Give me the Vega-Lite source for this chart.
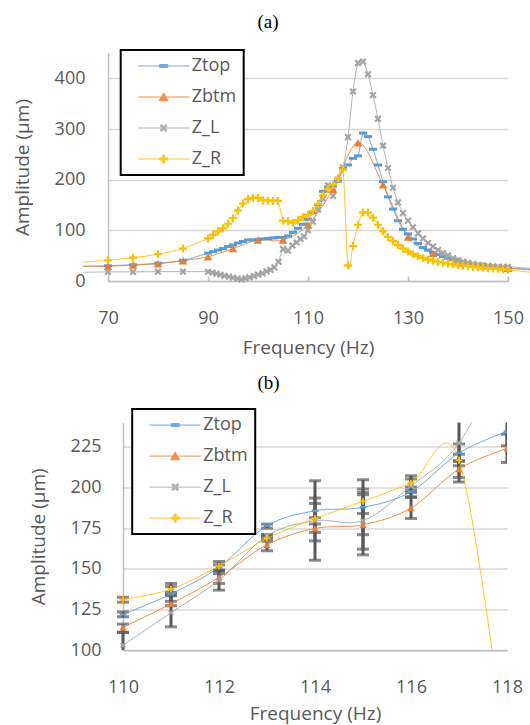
{
  "$schema": "https://vega.github.io/schema/vega-lite/v6.json",
  "background": "white",
  "padding": {"left": 12, "top": 13, "right": 0, "bottom": 8},
  "spacing": 16.5,
  "config": {
    "view": {"stroke": null},
    "font": "Open Sans",
    "axis": {
      "labelFont": "Open Sans", "labelFontSize": 18, "labelColor": "#595959",
      "titleFont": "Open Sans", "titleFontSize": 19, "titleColor": "#595959", "titleFontWeight": "normal",
      "domainColor": "#BFBFBF", "domainWidth": 1.5,
      "gridColor": "#D9D9D9", "gridWidth": 1.5,
      "tickColor": "#BFBFBF", "tickWidth": 1.5,
      "labelOverlap": false, "labelFlush": false
    },
    "legend": {
      "labelFont": "Open Sans", "labelFontSize": 18, "labelColor": "#595959",
      "strokeColor": "black", "strokeWidth": 2, "fillColor": "white", "padding": 7, "rowPadding": 13,
      "symbolSize": 100, "symbolOffset": 27, "labelOffset": 19, "symbolStrokeWidth": 1,
      "labelExpr": "datum.label + '    '"
    },
    "title": {"font": "Liberation Serif", "fontSize": 19, "fontWeight": "normal", "color": "black", "anchor": "middle", "frame": "group"}
  },
  "resolve": {"scale": {"color": "independent", "shape": "independent", "x": "independent", "y": "independent"}, "legend": {"color": "independent", "shape": "independent"}},
  "datasets": {
    "a": [
      {"f":65,"s":"Ztop","v":29},{"f":70,"s":"Ztop","v":30},{"f":75,"s":"Ztop","v":32},{"f":80,"s":"Ztop","v":35},{"f":85,"s":"Ztop","v":41},
      {"f":90,"s":"Ztop","v":55},{"f":91,"s":"Ztop","v":58},{"f":92,"s":"Ztop","v":61},{"f":93,"s":"Ztop","v":64},{"f":94,"s":"Ztop","v":68},
      {"f":95,"s":"Ztop","v":71},{"f":96,"s":"Ztop","v":75},{"f":97,"s":"Ztop","v":78},{"f":98,"s":"Ztop","v":81},{"f":99,"s":"Ztop","v":81},
      {"f":100,"s":"Ztop","v":82},{"f":101,"s":"Ztop","v":83},{"f":102,"s":"Ztop","v":84},{"f":103,"s":"Ztop","v":85},{"f":104,"s":"Ztop","v":86},
      {"f":105,"s":"Ztop","v":86},{"f":106,"s":"Ztop","v":89},{"f":107,"s":"Ztop","v":96},{"f":108,"s":"Ztop","v":104},{"f":109,"s":"Ztop","v":112},
      {"f":110,"s":"Ztop","v":122},{"f":111,"s":"Ztop","v":135},{"f":112,"s":"Ztop","v":151},{"f":113,"s":"Ztop","v":177},{"f":114,"s":"Ztop","v":186},
      {"f":115,"s":"Ztop","v":188},{"f":116,"s":"Ztop","v":197},{"f":117,"s":"Ztop","v":222},{"f":118,"s":"Ztop","v":229},{"f":119,"s":"Ztop","v":242},
      {"f":120,"s":"Ztop","v":247},{"f":121,"s":"Ztop","v":292},{"f":122,"s":"Ztop","v":285},{"f":123,"s":"Ztop","v":260},{"f":124,"s":"Ztop","v":229},
      {"f":125,"s":"Ztop","v":196},{"f":126,"s":"Ztop","v":166},{"f":127,"s":"Ztop","v":142},{"f":128,"s":"Ztop","v":119},{"f":129,"s":"Ztop","v":102},
      {"f":130,"s":"Ztop","v":93},{"f":131,"s":"Ztop","v":83},{"f":132,"s":"Ztop","v":74},{"f":133,"s":"Ztop","v":66},{"f":134,"s":"Ztop","v":61},
      {"f":135,"s":"Ztop","v":56},{"f":136,"s":"Ztop","v":52},{"f":137,"s":"Ztop","v":48},{"f":138,"s":"Ztop","v":45},{"f":139,"s":"Ztop","v":42},
      {"f":140,"s":"Ztop","v":40},{"f":141,"s":"Ztop","v":38},{"f":142,"s":"Ztop","v":36},{"f":143,"s":"Ztop","v":34},{"f":144,"s":"Ztop","v":33},
      {"f":145,"s":"Ztop","v":31},{"f":146,"s":"Ztop","v":30},{"f":147,"s":"Ztop","v":29},{"f":148,"s":"Ztop","v":28},{"f":149,"s":"Ztop","v":27},
      {"f":150,"s":"Ztop","v":26},{"f":156,"s":"Ztop","v":22},

      {"f":65,"s":"Zbtm","v":29},{"f":70,"s":"Zbtm","v":29},{"f":75,"s":"Zbtm","v":31.5},{"f":80,"s":"Zbtm","v":34},{"f":85,"s":"Zbtm","v":40},
      {"f":90,"s":"Zbtm","v":48},{"f":95,"s":"Zbtm","v":64},{"f":100,"s":"Zbtm","v":81},{"f":105,"s":"Zbtm","v":81},{"f":110,"s":"Zbtm","v":111},
      {"f":115,"s":"Zbtm","v":181},{"f":120,"s":"Zbtm","v":273},{"f":125,"s":"Zbtm","v":190},{"f":130,"s":"Zbtm","v":87},{"f":135,"s":"Zbtm","v":55},
      {"f":140,"s":"Zbtm","v":40},{"f":145,"s":"Zbtm","v":30},{"f":150,"s":"Zbtm","v":25},{"f":156,"s":"Zbtm","v":21},

      {"f":65,"s":"Z_L","v":17},{"f":70,"s":"Z_L","v":18},{"f":75,"s":"Z_L","v":18},{"f":80,"s":"Z_L","v":18.5},{"f":85,"s":"Z_L","v":18.5},
      {"f":90,"s":"Z_L","v":18.3},{"f":90.9,"s":"Z_L","v":16.4},{"f":91.7,"s":"Z_L","v":14.4},{"f":92.5,"s":"Z_L","v":12.4},{"f":93.3,"s":"Z_L","v":10.4},
      {"f":94.2,"s":"Z_L","v":8.5},{"f":95,"s":"Z_L","v":6.5},{"f":95.9,"s":"Z_L","v":4.5},{"f":96.7,"s":"Z_L","v":3.2},{"f":97.5,"s":"Z_L","v":5.1},
      {"f":98.3,"s":"Z_L","v":7.1},{"f":99.2,"s":"Z_L","v":9.8},{"f":100,"s":"Z_L","v":12.4},{"f":100.9,"s":"Z_L","v":15},{"f":101.7,"s":"Z_L","v":19},
      {"f":102.5,"s":"Z_L","v":22},{"f":103.3,"s":"Z_L","v":27},{"f":104.1,"s":"Z_L","v":38},{"f":105,"s":"Z_L","v":63},{"f":106,"s":"Z_L","v":60},
      {"f":106.9,"s":"Z_L","v":70},{"f":107.7,"s":"Z_L","v":76},{"f":108.5,"s":"Z_L","v":83},{"f":109.2,"s":"Z_L","v":88},{"f":110,"s":"Z_L","v":100},
      {"f":111,"s":"Z_L","v":117},{"f":112,"s":"Z_L","v":141},{"f":113,"s":"Z_L","v":162},{"f":114,"s":"Z_L","v":189},{"f":115,"s":"Z_L","v":168},
      {"f":116,"s":"Z_L","v":200},{"f":117,"s":"Z_L","v":224},{"f":118,"s":"Z_L","v":284},{"f":119,"s":"Z_L","v":374},{"f":120,"s":"Z_L","v":430},
      {"f":121,"s":"Z_L","v":433},{"f":122,"s":"Z_L","v":408},{"f":123,"s":"Z_L","v":367},{"f":124,"s":"Z_L","v":320},{"f":125,"s":"Z_L","v":267},
      {"f":126,"s":"Z_L","v":223},{"f":127,"s":"Z_L","v":184},{"f":128,"s":"Z_L","v":155},{"f":129,"s":"Z_L","v":134},{"f":130,"s":"Z_L","v":119},
      {"f":131,"s":"Z_L","v":106},{"f":132,"s":"Z_L","v":94},{"f":133,"s":"Z_L","v":84},{"f":134,"s":"Z_L","v":75},{"f":135,"s":"Z_L","v":68},
      {"f":136,"s":"Z_L","v":61},{"f":137,"s":"Z_L","v":55},{"f":138,"s":"Z_L","v":50},{"f":139,"s":"Z_L","v":45},{"f":140,"s":"Z_L","v":41},
      {"f":141,"s":"Z_L","v":38},{"f":142,"s":"Z_L","v":36},{"f":143,"s":"Z_L","v":34},{"f":144,"s":"Z_L","v":32},{"f":145,"s":"Z_L","v":31},
      {"f":146,"s":"Z_L","v":30},{"f":147,"s":"Z_L","v":29},{"f":148,"s":"Z_L","v":28},{"f":149,"s":"Z_L","v":28},{"f":150,"s":"Z_L","v":28},
      {"f":156,"s":"Z_L","v":24},

      {"f":65,"s":"Z_R","v":37},{"f":70,"s":"Z_R","v":41},{"f":75,"s":"Z_R","v":46},{"f":80,"s":"Z_R","v":53},{"f":85,"s":"Z_R","v":64},
      {"f":90,"s":"Z_R","v":84},{"f":91,"s":"Z_R","v":91},{"f":92,"s":"Z_R","v":98},{"f":93,"s":"Z_R","v":104},{"f":94,"s":"Z_R","v":113},
      {"f":95,"s":"Z_R","v":124},{"f":96,"s":"Z_R","v":139},{"f":97,"s":"Z_R","v":153},{"f":98,"s":"Z_R","v":162},{"f":99,"s":"Z_R","v":164},
      {"f":100,"s":"Z_R","v":164},{"f":101,"s":"Z_R","v":159},{"f":102,"s":"Z_R","v":159},{"f":103,"s":"Z_R","v":158},{"f":104,"s":"Z_R","v":158},
      {"f":105,"s":"Z_R","v":119},{"f":106,"s":"Z_R","v":118},{"f":107,"s":"Z_R","v":115},{"f":108,"s":"Z_R","v":120},{"f":109,"s":"Z_R","v":126},
      {"f":110,"s":"Z_R","v":131},{"f":111,"s":"Z_R","v":138},{"f":112,"s":"Z_R","v":152},{"f":113,"s":"Z_R","v":169},{"f":114,"s":"Z_R","v":181},
      {"f":115,"s":"Z_R","v":190},{"f":116,"s":"Z_R","v":203},{"f":117,"s":"Z_R","v":220},{"f":118,"s":"Z_R","v":31},{"f":119,"s":"Z_R","v":69},
      {"f":120,"s":"Z_R","v":111},{"f":121,"s":"Z_R","v":135},{"f":122,"s":"Z_R","v":135},{"f":123,"s":"Z_R","v":125},{"f":124,"s":"Z_R","v":111},
      {"f":125,"s":"Z_R","v":98},{"f":126,"s":"Z_R","v":87},{"f":127,"s":"Z_R","v":79},{"f":128,"s":"Z_R","v":71},{"f":129,"s":"Z_R","v":64},
      {"f":130,"s":"Z_R","v":58},{"f":131,"s":"Z_R","v":53},{"f":132,"s":"Z_R","v":49},{"f":133,"s":"Z_R","v":45},{"f":134,"s":"Z_R","v":42},
      {"f":135,"s":"Z_R","v":40},{"f":136,"s":"Z_R","v":38},{"f":137,"s":"Z_R","v":36},{"f":138,"s":"Z_R","v":34},{"f":139,"s":"Z_R","v":33},
      {"f":140,"s":"Z_R","v":31},{"f":141,"s":"Z_R","v":30},{"f":142,"s":"Z_R","v":29},{"f":143,"s":"Z_R","v":28},{"f":144,"s":"Z_R","v":27},
      {"f":145,"s":"Z_R","v":26},{"f":146,"s":"Z_R","v":25},{"f":147,"s":"Z_R","v":24.5},{"f":148,"s":"Z_R","v":24},{"f":149,"s":"Z_R","v":23},
      {"f":150,"s":"Z_R","v":22},{"f":156,"s":"Z_R","v":16}
    ],
    "b": [
      {"f":110,"s":"Ztop","v":122,"lo":120.5,"hi":123.5},{"f":111,"s":"Ztop","v":134.5,"lo":130,"hi":139},{"f":112,"s":"Ztop","v":151,"lo":148.8,"hi":152.5},
      {"f":113,"s":"Ztop","v":176.5,"lo":175,"hi":177.5},{"f":114,"s":"Ztop","v":185.7,"lo":167.2,"hi":204.2},{"f":115,"s":"Ztop","v":187.8,"lo":171,"hi":204.8},
      {"f":116,"s":"Ztop","v":197.4,"lo":194.4,"hi":200.4},{"f":117,"s":"Ztop","v":221.2,"lo":216.2,"hi":226.8},{"f":118,"s":"Ztop","v":234.5,"lo":225.7,"hi":244},
      {"f":110,"s":"Zbtm","v":114,"lo":110.8,"hi":116},{"f":111,"s":"Zbtm","v":128.5,"lo":127.3,"hi":133.4},{"f":112,"s":"Zbtm","v":144.7,"lo":141,"hi":147.1},
      {"f":113,"s":"Zbtm","v":164.8,"lo":161.1,"hi":168.5},{"f":114,"s":"Zbtm","v":174.8,"lo":155.3,"hi":193.5},{"f":115,"s":"Zbtm","v":177.1,"lo":158.6,"hi":195.6},
      {"f":116,"s":"Zbtm","v":187.4,"lo":181,"hi":193.8},{"f":117,"s":"Zbtm","v":211.4,"lo":206.2,"hi":216.4},{"f":118,"s":"Zbtm","v":224.1,"lo":215.4,"hi":232.8},
      {"f":110,"s":"Z_L","v":103,"lo":95,"hi":111},{"f":111,"s":"Z_L","v":123,"lo":114.3,"hi":135.5},{"f":112,"s":"Z_L","v":143,"lo":136.9,"hi":149},
      {"f":113,"s":"Z_L","v":170.3,"lo":169.7,"hi":171},{"f":114,"s":"Z_L","v":179.6,"lo":177.6,"hi":181.5},{"f":115,"s":"Z_L","v":179.6,"lo":162.1,"hi":197},
      {"f":116,"s":"Z_L","v":201,"lo":197,"hi":205.2},{"f":117,"s":"Z_L","v":227.4,"lo":203.4,"hi":251},{"f":118,"s":"Z_L","v":284,"lo":null,"hi":null},
      {"f":110,"s":"Z_R","v":131,"lo":129.5,"hi":132.5},{"f":111,"s":"Z_R","v":137.5,"lo":134,"hi":141},{"f":112,"s":"Z_R","v":151.7,"lo":149.2,"hi":154.5},
      {"f":113,"s":"Z_R","v":168.7,"lo":167,"hi":170.8},{"f":114,"s":"Z_R","v":181,"lo":172.4,"hi":190.2},{"f":115,"s":"Z_R","v":191.5,"lo":184,"hi":199.1},
      {"f":116,"s":"Z_R","v":202.8,"lo":198.3,"hi":207.3},{"f":117,"s":"Z_R","v":216.9,"lo":213.4,"hi":220.4},{"f":118,"s":"Z_R","v":31,"lo":null,"hi":null}
    ]
  },
  "vconcat": [
    {
      "width": 400,
      "height": 228,
      "title": {"text": "(a)", "dx": -40, "offset": 17},
      "data": {"name": "a"},
      "encoding": {
        "x": {"field": "f", "type": "quantitative",
          "scale": {"domain": [70, 150], "nice": false, "zero": false},
          "axis": {"values": [70, 90, 110, 130, 150], "grid": false, "ticks": true, "tickSize": -5, "labelPadding": 33, "title": "Frequency (Hz)", "titlePadding": 11}},
        "y": {"field": "v", "type": "quantitative",
          "scale": {"domain": [0, 450], "nice": false},
          "axis": {"values": [0, 100, 200, 300, 400], "grid": true, "ticks": false, "labelPadding": 23, "title": "Amplitude (µm)", "titleX": -86, "titleBaseline": "middle"}},
        "color": {"field": "s", "type": "nominal",
          "scale": {"domain": ["Ztop", "Zbtm", "Z_L", "Z_R"], "range": ["#5B9BD5", "#ED7D31", "#A5A5A5", "#FFC000"]},
          "legend": {"title": null, "orient": "none", "legendX": 12.7, "legendY": -3}}
      },
      "layer": [
        {"mark": {"type": "line", "interpolate": "cardinal", "strokeWidth": 1, "opacity": 0.85}},
        {"transform": [{"filter": "datum.s === 'Ztop' && datum.f >= 70 && datum.f <= 150"}],
         "mark": {"type": "point", "filled": true, "opacity": 1, "size": 100, "shape": "M-0.8,-0.3H0.8V0.3H-0.8Z"}},
        {"transform": [{"filter": "datum.s === 'Zbtm' && datum.f >= 70 && datum.f <= 150"}],
         "mark": {"type": "point", "filled": true, "opacity": 1, "size": 100, "shape": "M0,-0.75L0.85,0.75H-0.85Z"}},
        {"transform": [{"filter": "datum.s === 'Z_L' && datum.f >= 70 && datum.f <= 150"}],
         "mark": {"type": "point", "filled": true, "opacity": 1, "size": 100, "shape": "M0.41,-0.72L0.72,-0.41L0.31,0L0.72,0.41L0.41,0.72L0,0.31L-0.41,0.72L-0.72,0.41L-0.31,0L-0.72,-0.41L-0.41,-0.72L0,-0.31Z"}},
        {"transform": [{"filter": "datum.s === 'Z_R' && datum.f >= 70 && datum.f <= 150"}],
         "mark": {"type": "point", "filled": true, "opacity": 1, "size": 100, "shape": "M-0.22,-0.8H0.22V-0.22H0.8V0.22H0.22V0.8H-0.22V0.22H-0.8V-0.22H-0.22Z"}},
        {"transform": [{"filter": "false"}],
         "mark": {"type": "point", "filled": true, "opacity": 1},
         "encoding": {
           "shape": {"field": "s", "type": "nominal",
             "scale": {"domain": ["Ztop", "Zbtm", "Z_L", "Z_R"], "range": [
               "M-5.1,0H5.1M-0.8,-0.3H0.8V0.3H-0.8Z",
               "M-5.1,0H5.1M0,-0.8L0.9,0.75H-0.9Z",
               "M-5.1,0H5.1M0.41,-0.72L0.72,-0.41L0.31,0L0.72,0.41L0.41,0.72L0,0.31L-0.41,0.72L-0.72,0.41L-0.31,0L-0.72,-0.41L-0.41,-0.72L0,-0.31Z",
               "M-5.1,0H5.1M-0.22,-0.8H0.22V-0.22H0.8V0.22H0.22V0.8H-0.22V0.22H-0.8V-0.22H-0.22Z"]},
             "legend": {"title": null, "orient": "none", "legendX": 12.7, "legendY": -3}}
         }}
      ]
    },
    {
      "width": 399,
      "height": 227.6,
      "title": {"text": "(b)", "dx": -39, "offset": 15.3},
      "data": {"name": "b"},
      "encoding": {
        "x": {"field": "f", "type": "quantitative",
          "scale": {"domain": [110, 118], "range": [15, 399], "nice": false, "zero": false},
          "axis": {"values": [110, 112, 114, 116, 118], "grid": false, "ticks": false, "labelPadding": 28, "title": "Frequency (Hz)", "titlePadding": 8}},
        "y": {"field": "v", "type": "quantitative",
          "scale": {"domain": [100, 240], "nice": false, "zero": false},
          "axis": {"values": [100, 125, 150, 175, 200, 225], "grid": true, "ticks": false, "offset": -15, "labelPadding": 22, "title": "Amplitude (µm)", "titleX": -84.8, "titleBaseline": "middle"}}
      },
      "layer": [
        {
          "mark": {"type": "rule", "color": "#595959", "strokeWidth": 3, "clip": true},
          "encoding": {"y": {"field": "lo", "type": "quantitative"}, "y2": {"field": "hi"}}
        },
        {
          "mark": {"type": "tick", "orient": "horizontal", "color": "#595959", "thickness": 3, "size": 12, "clip": true},
          "encoding": {"y": {"field": "lo", "type": "quantitative"}}
        },
        {
          "mark": {"type": "tick", "orient": "horizontal", "color": "#595959", "thickness": 3, "size": 12, "clip": true},
          "encoding": {"y": {"field": "hi", "type": "quantitative"}}
        },
        {
          "encoding": {
            "color": {"field": "s", "type": "nominal",
              "scale": {"domain": ["Ztop", "Zbtm", "Z_L", "Z_R"], "range": ["#5B9BD5", "#ED7D31", "#A5A5A5", "#FFC000"]},
              "legend": {"title": null, "orient": "none", "legendX": 24.2, "legendY": -13.4}}
          },
          "layer": [
            {"mark": {"type": "line", "interpolate": "cardinal", "strokeWidth": 1, "opacity": 0.85, "clip": true}},
            {"transform": [{"filter": "datum.s === 'Ztop'"}],
             "mark": {"type": "point", "filled": true, "opacity": 1, "size": 70, "clip": true, "shape": "M-0.8,-0.3H0.8V0.3H-0.8Z"}},
            {"transform": [{"filter": "datum.s === 'Zbtm'"}],
             "mark": {"type": "point", "filled": true, "opacity": 1, "size": 70, "clip": true, "shape": "M0,-0.75L0.85,0.75H-0.85Z"}},
            {"transform": [{"filter": "datum.s === 'Z_L'"}],
             "mark": {"type": "point", "filled": true, "opacity": 1, "size": 70, "clip": true, "shape": "M0.41,-0.72L0.72,-0.41L0.31,0L0.72,0.41L0.41,0.72L0,0.31L-0.41,0.72L-0.72,0.41L-0.31,0L-0.72,-0.41L-0.41,-0.72L0,-0.31Z"}},
            {"transform": [{"filter": "datum.s === 'Z_R'"}],
             "mark": {"type": "point", "filled": true, "opacity": 1, "size": 70, "clip": true, "shape": "M-0.22,-0.8H0.22V-0.22H0.8V0.22H0.22V0.8H-0.22V0.22H-0.8V-0.22H-0.22Z"}},
            {"transform": [{"filter": "false"}],
             "mark": {"type": "point", "filled": true, "opacity": 1},
             "encoding": {
               "shape": {"field": "s", "type": "nominal",
                 "scale": {"domain": ["Ztop", "Zbtm", "Z_L", "Z_R"], "range": [
                   "M-5.1,0H5.1M-0.8,-0.3H0.8V0.3H-0.8Z",
                   "M-5.1,0H5.1M0,-0.8L0.9,0.75H-0.9Z",
                   "M-5.1,0H5.1M0.41,-0.72L0.72,-0.41L0.31,0L0.72,0.41L0.41,0.72L0,0.31L-0.41,0.72L-0.72,0.41L-0.31,0L-0.72,-0.41L-0.41,-0.72L0,-0.31Z",
                   "M-5.1,0H5.1M-0.22,-0.8H0.22V-0.22H0.8V0.22H0.22V0.8H-0.22V0.22H-0.8V-0.22H-0.22Z"]},
                 "legend": {"title": null, "orient": "none", "legendX": 24.2, "legendY": -13.4}}
             }}
          ]
        }
      ]
    }
  ]
}
